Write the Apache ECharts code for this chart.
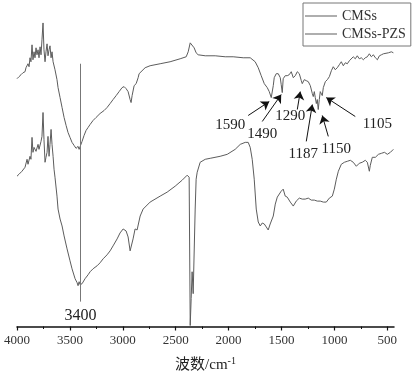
<!DOCTYPE html>
<html>
<head>
<meta charset="utf-8">
<script src="https://cdn.jsdelivr.net/npm/echarts@6/dist/echarts.min.js"></script>
<style>html,body{margin:0;padding:0;background:#fff;}#c{width:414px;height:378px;}</style>
</head>
<body>
<div id="c"></div>
<script>
// CMSs (upper trace): wavenumber (cm^-1) and transmittance (arbitrary units)
const cmssX = [4000,3981,3962,3943,3924,3915,3905,3896,3886,3877,3868,3858,3849,3839,3830,3820,3811,3801,3792,3782,3773,3764,3754,3745,3735,3726,3716,3707,3697,3688,3678,3669,3659,3650,3641,3631,3622,3612,3593,3574,3555,3536,3518,3499,3480,3461,3442,3432,3423,3413,3404,3385,3366,3347,3328,3309,3281,3253,3215,3177,3149,3120,3092,3063,3035,3007,2988,2969,2950,2931,2922,2912,2893,2874,2865,2855,2846,2836,2789,2742,2647,2553,2458,2401,2382,2363,2345,2326,2307,2288,2221,2127,2032,1957,1862,1796,1749,1720,1692,1663,1635,1616,1597,1588,1578,1569,1550,1531,1512,1503,1493,1484,1465,1446,1427,1408,1389,1370,1351,1332,1313,1304,1285,1266,1247,1228,1209,1200,1190,1181,1171,1162,1153,1143,1134,1124,1115,1105,1086,1067,1048,1029,1011,992,973,954,935,916,897,878,859,841,822,803,784,765,746,727,708,689,670,651,632,613,594,575,556,537,519,490,462,443];
const cmssY = [249,251,253,255,256,260,258,264,261,270,266,283,268,276,270,280,273,278,270,281,273,288,305,278,266,276,284,272,278,282,270,276,266,268,258,256,248,240,230,220,210,202,195,190,185,182,179,177,181,178,180,186,192,197,200,203,207,210,214,217,220,224,228,232,236,240,241,239,236,228,225,232,242,244,242,250,254,256,260,262,264,266,269,271,276,285,283,280,275,273,272,272,271,271,270,270,266,260,252,244,240,236,230,228,242,250,254,254,250,243,235,249,252,252,253,256,250,252,256,254,247,244,248,247,246,242,234,231,236,230,224,228,218,228,236,238,232,240,246,248,251,257,261,258,260,263,266,262,265,264,267,268,271,269,272,269,270,268,270,271,274,271,273,270,268,272,273,274,273,275,276,275];

// CMSs-PZS (lower trace)
const pzsX = [4000,3981,3953,3924,3905,3896,3877,3868,3858,3849,3839,3830,3820,3811,3801,3792,3782,3773,3764,3754,3745,3735,3726,3716,3707,3697,3688,3678,3669,3659,3650,3641,3622,3612,3593,3574,3555,3527,3499,3480,3451,3432,3423,3413,3404,3385,3357,3328,3309,3281,3243,3215,3186,3149,3120,3092,3054,3026,2997,2969,2950,2931,2922,2903,2884,2865,2855,2836,2808,2742,2647,2581,2505,2439,2392,2373,2363,2354,2345,2335,2316,2307,2297,2269,2221,2174,2080,2013,1938,1890,1843,1815,1796,1777,1758,1739,1720,1701,1682,1663,1644,1626,1607,1578,1559,1540,1522,1503,1484,1465,1446,1417,1389,1361,1332,1304,1276,1247,1219,1190,1162,1134,1105,1077,1048,1020,1001,982,963,935,906,878,850,822,793,765,737,708,689,670,661,642,613,584,556,527,500,471,443];
const pzsY = [151,153,156,160,168,163,171,168,190,175,180,181,176,175,183,178,178,186,191,215,188,165,170,175,191,171,183,198,183,171,158,150,131,118,108,101,91,78,66,58,48,44,41,45,42,43,48,52,55,58,61,64,68,72,76,81,88,94,98,96,90,76,78,88,98,97,96,111,118,125,131,135,141,147,152,150,1,28,55,33,118,148,155,165,168,169,171,173,178,183,185,185,180,168,148,118,105,101,104,103,100,97,103,111,123,130,128,136,138,131,130,125,121,126,129,128,128,129,127,127,126,126,125,125,129,131,138,148,156,163,165,166,167,165,161,164,165,167,165,156,162,170,170,173,174,175,173,175,178];

// x-axis ticks
const majorTicks = [4000,3500,3000,2500,2000,1500,1000,500];
const minorTicks = [3750,3250,2750,2250,1750,1250,750];

// peak annotations (wavenumber labels) with arrow tail/tip and label anchor in data space
const peakText   = ['1590','1490','1290','1187','1150','1105'];
const tipWn      = [1616,1503,1323,1209,1115,1077];
const tipVal     = [226,233,236,223,212,230];
const tailWn     = [1815,1682,1351,1266,1058,803];
const tailVal    = [212,206,218,186,191,211];
const labelWn    = [1985,1682,1417,1294,982,594];
const labelVal   = [202,193,211,173,178,203];

const refLineWn = 3400;
const refLineTop = 264, refLineBottom = 25, refLabelVal = 11;

const serif = '"Liberation Serif","DejaVu Serif","Noto Sans CJK SC",serif';
const zip = (a, b) => a.map((v, i) => [v, b[i]]);

const chart = echarts.init(document.getElementById('c'), null, {renderer: 'canvas'});
const xBase = {type: 'value', min: 437, max: 4000, inverse: true, gridIndex: 0, splitLine: {show: false}};
chart.setOption({
  animation: false,
  backgroundColor: '#fff',
  grid: {left: 17, right: 20, top: 10, bottom: 50, containLabel: false},
  legend: {
    left: 303, top: 3, orient: 'vertical',
    borderColor: '#777', borderWidth: 1, padding: [5, 5, 4, 2],
    itemWidth: 32, itemHeight: 1, itemGap: 2, icon: 'rect',
    textStyle: {fontFamily: serif, fontSize: 14, color: '#333', lineHeight: 16},
    data: ['CMSs', 'CMSs-PZS']
  },
  xAxis: [
    Object.assign({}, xBase, {
      position: 'bottom',
      name: '{a|波数/cm}{s|-1}', nameLocation: 'middle', nameGap: 30,
      nameTextStyle: {rich: {a: {fontFamily: serif, fontSize: 15, color: '#222'}, s: {fontFamily: serif, fontSize: 10, color: '#222', verticalAlign: 'top', padding: [0, 0, 8, 0]}}},
      axisLine: {show: true, lineStyle: {color: '#111', width: 1.5}},
      axisTick: {show: true, inside: false, length: 4, lineStyle: {color: '#111', width: 1.2}, customValues: majorTicks},
      axisLabel: {show: true, margin: 8, fontFamily: serif, fontSize: 13, color: '#333', customValues: majorTicks, formatter: v => String(v)}
    }),
    Object.assign({}, xBase, {
      position: 'bottom',
      axisLine: {show: false},
      axisTick: {show: true, inside: false, length: 2.5, lineStyle: {color: '#111', width: 1}, customValues: minorTicks},
      axisLabel: {show: false}
    })
  ],
  yAxis: {type: 'value', min: 0, max: 318, show: false},
  series: [
    {
      name: 'CMSs', type: 'line', xAxisIndex: 0, data: zip(cmssX, cmssY),
      showSymbol: false, symbol: 'none', lineStyle: {color: '#5c5c5c', width: 1}, itemStyle: {color: '#5c5c5c'},
      markLine: {
        silent: true, symbol: ['none', 'arrow'], symbolSize: 8, animation: false,
        lineStyle: {color: '#111', width: 1, type: 'solid'}, itemStyle: {color: '#111'}, label: {show: false},
        data: peakText.map((t, i) => [{coord: [tailWn[i], tailVal[i]]}, {coord: [tipWn[i], tipVal[i]]}])
      },
      markPoint: {
        silent: true, symbol: 'rect', symbolSize: 1, itemStyle: {color: 'rgba(0,0,0,0)'},
        label: {show: true, position: 'inside', fontFamily: serif, fontSize: 15, color: '#222'},
        data: peakText.map((t, i) => ({coord: [labelWn[i], labelVal[i]], value: t, label: {formatter: t}}))
      }
    },
    {
      name: 'CMSs-PZS', type: 'line', xAxisIndex: 0, data: zip(pzsX, pzsY),
      showSymbol: false, symbol: 'none', lineStyle: {color: '#5c5c5c', width: 1}, itemStyle: {color: '#5c5c5c'},
      markLine: {
        silent: true, symbol: ['none', 'none'], animation: false,
        lineStyle: {color: '#777', width: 1, type: 'solid'}, label: {show: false},
        data: [[{coord: [refLineWn, refLineTop]}, {coord: [refLineWn, refLineBottom]}]]
      },
      markPoint: {
        silent: true, symbol: 'rect', symbolSize: 1, itemStyle: {color: 'rgba(0,0,0,0)'},
        label: {show: true, position: 'inside', fontFamily: serif, fontSize: 16, color: '#222'},
        data: [{coord: [refLineWn, refLabelVal], value: String(refLineWn), label: {formatter: String(refLineWn)}}]
      }
    }
  ]
});
</script>
</body>
</html>
